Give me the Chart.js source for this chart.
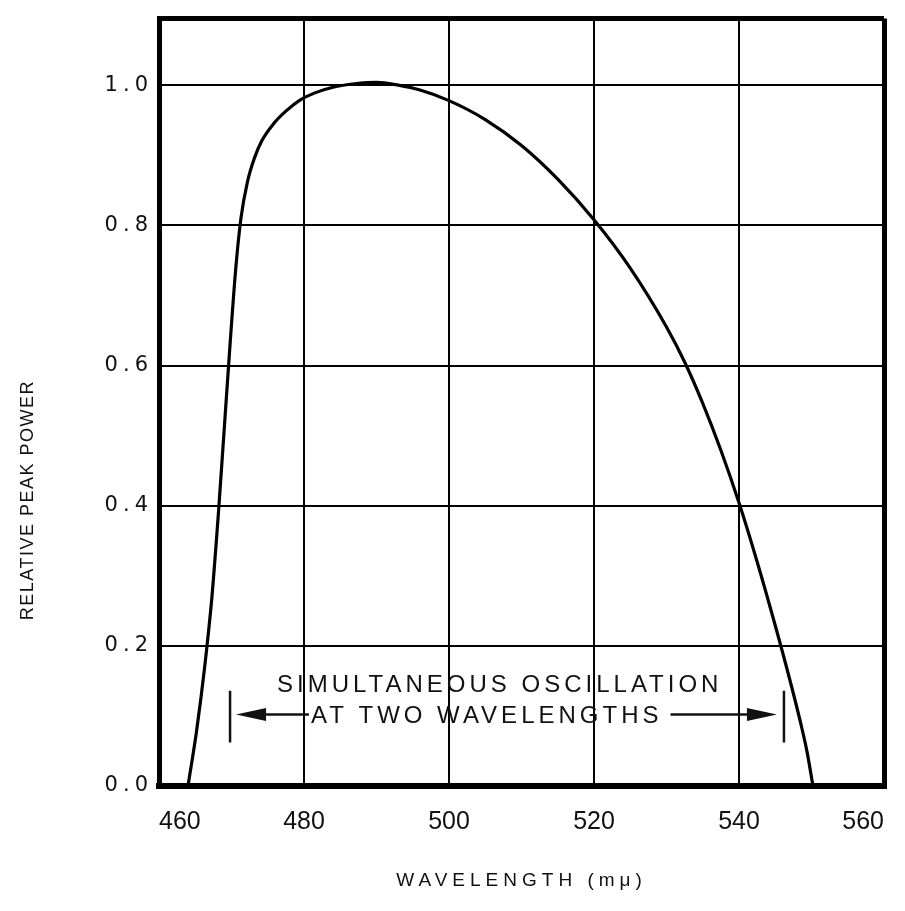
<!DOCTYPE html>
<html><head><meta charset="utf-8">
<script src="https://cdn.jsdelivr.net/npm/chart.js@4.4.0/dist/chart.umd.min.js"></script>
<style>html,body{margin:0;padding:0;background:#fff;} #wrap{width:905px;height:911px;position:relative;}</style>
</head><body><div id="wrap"><canvas id="c"></canvas></div>
<script>
// ---- data ----
const wavelength = [464.0, 465.2, 466.3, 467.3, 468.2, 469.0, 469.8, 470.6, 471.3, 472.2, 473.2, 474.2, 475.8, 477.5, 479.5, 481.5, 484.0, 487.0, 490.0, 493.0, 496.0, 500.0, 505.0, 510.0, 515.0, 520.0, 525.0, 530.0, 532.5, 535.0, 537.5, 540.0, 542.5, 545.0, 547.0, 548.5, 549.4, 550.2];
const relPower   = [0.0, 0.08, 0.17, 0.27, 0.39, 0.51, 0.63, 0.74, 0.81, 0.862, 0.897, 0.921, 0.945, 0.963, 0.979, 0.989, 0.997, 1.002, 1.004, 1.0, 0.993, 0.978, 0.951, 0.914, 0.866, 0.808, 0.739, 0.655, 0.605, 0.546, 0.479, 0.404, 0.320, 0.229, 0.152, 0.090, 0.048, 0.0];
const xTickValues = [460, 480, 500, 520, 540, 560];
const yTickValues = [0, 0.2, 0.4, 0.6, 0.8, 1.0];
const xRange = [460, 560];
const yRange = [0, 1.095];
const xTitle = 'WAVELENGTH (mμ)';
const yTitle = 'RELATIVE PEAK POWER';
const annotationLines = ['SIMULTANEOUS OSCILLATION', 'AT TWO WAVELENGTHS'];
const annotationRange = [469.8, 546.2];     // wavelengths of the two end bars
const annotationCenterX = [507.0, 505.2];   // wavelength at centre of each text line
const annotationLevelY = [0.143, 0.099];    // power level of each text line
const barSpanY = [0.136, 0.062];

const points = wavelength.map((w, i) => ({x: w, y: relPower[i]}));

const textPlugin = {
  id: 'textPlugin',
  beforeDraw(chart) { chart.ctx.letterSpacing = '5px'; },
  afterDatasetsDraw(chart) { chart.ctx.letterSpacing = '0px'; },
  afterDraw(chart) {
    const ctx = chart.ctx, xs = chart.scales.x, ys = chart.scales.y, ca = chart.chartArea;
    ctx.save();
    ctx.fillStyle = '#111'; ctx.strokeStyle = '#111';
    // y title
    ctx.save();
    ctx.translate(ca.left - 131, ys.getPixelForValue(0.408));
    ctx.rotate(-Math.PI / 2);
    ctx.font = '18px "Liberation Sans"';
    ctx.letterSpacing = '1.5px';
    ctx.textAlign = 'center'; ctx.textBaseline = 'middle';
    ctx.fillText(yTitle, 0, 0);
    ctx.restore();
    // annotation
    ctx.font = '24px "Liberation Sans"';
    ctx.letterSpacing = '4px';
    ctx.textAlign = 'center'; ctx.textBaseline = 'middle';
    const cx1 = xs.getPixelForValue(annotationCenterX[0]), y1 = ys.getPixelForValue(annotationLevelY[0]);
    ctx.fillText(annotationLines[0], cx1, y1);
    const cx2 = xs.getPixelForValue(annotationCenterX[1]), y2 = ys.getPixelForValue(annotationLevelY[1]);
    ctx.fillText(annotationLines[1], cx2, y2);
    const w2 = ctx.measureText(annotationLines[1]).width;
    const tL = cx2 - w2 / 2, tR = cx2 + w2 / 2;
    const bx1 = xs.getPixelForValue(annotationRange[0]), bx2 = xs.getPixelForValue(annotationRange[1]);
    const bt = ys.getPixelForValue(barSpanY[0]), bb = ys.getPixelForValue(barSpanY[1]);
    ctx.lineWidth = 2.5;
    ctx.beginPath();
    ctx.moveTo(bx1, bt); ctx.lineTo(bx1, bb);
    ctx.moveTo(bx2, bt); ctx.lineTo(bx2, bb);
    ctx.stroke();
    const ay = y2 - 2;
    function arrow(tipX, tailX, y) {
      const dir = tailX > tipX ? 1 : -1;
      const head = 30, hw = 6.5;
      ctx.beginPath();
      ctx.moveTo(tipX + dir * (head - 2), y); ctx.lineTo(tailX, y);
      ctx.lineWidth = 2.5; ctx.stroke();
      ctx.beginPath();
      ctx.moveTo(tipX, y);
      ctx.lineTo(tipX + dir * head, y - hw);
      ctx.lineTo(tipX + dir * head, y + hw);
      ctx.closePath(); ctx.fill();
    }
    arrow(bx1 + 6, tL - 2, ay);
    arrow(bx2 - 7, tR + 8, ay);
    ctx.restore();
  }
};

new Chart(document.getElementById('c'), {
  type: 'line',
  data: { datasets: [{
    data: points,
    borderColor: '#000', borderWidth: 3.2,
    pointRadius: 0, fill: false,
    cubicInterpolationMode: 'monotone'
  }]},
  options: {
    responsive: true, maintainAspectRatio: false, animation: false, devicePixelRatio: 1,
    layout: { padding: { top: 13, right: 20, left: 0, bottom: 0 } },
    plugins: { legend: { display: false }, tooltip: { enabled: false } },
    scales: {
      x: {
        type: 'linear', min: xRange[0], max: xRange[1],
        afterBuildTicks: s => { s.ticks = xTickValues.map(v => ({ value: v })); },
        afterFit: s => { s.height = 125; },
        ticks: {
          z: 1, padding: 21, align: 'inner', maxRotation: 0, autoSkip: false,
          color: '#111', font: { family: 'Liberation Sans', size: 25 },
          callback: (v) => String(v)
        },
        grid: {
          color: '#000', drawTicks: false,
          lineWidth: c => (c.tick && (c.tick.value === xRange[0] || c.tick.value === xRange[1])) ? 5 : 2
        },
        border: { display: true, color: '#000', width: 6 },
        title: {
          display: true, text: xTitle, color: '#111',
          font: { family: 'Liberation Sans', size: 19 },
          padding: { top: 0, bottom: 19 }
        }
      },
      y: {
        type: 'linear', min: yRange[0], max: yRange[1],
        afterBuildTicks: s => { s.ticks = yTickValues.concat([yRange[1]]).map(v => ({ value: v })); },
        afterFit: s => { s.width = 159; },
        ticks: {
          padding: 6, color: '#111', font: { family: 'DejaVu Sans', size: 21 },
          callback: (v, i) => i < yTickValues.length ? yTickValues[i].toFixed(1) : ''
        },
        grid: {
          color: '#000', drawTicks: false,
          lineWidth: c => (c.tick && c.tick.value > 1.05) ? 5 : 2
        },
        border: { display: true, color: '#000', width: 5 }
      }
    }
  },
  plugins: [textPlugin]
});
</script>
</body></html>
